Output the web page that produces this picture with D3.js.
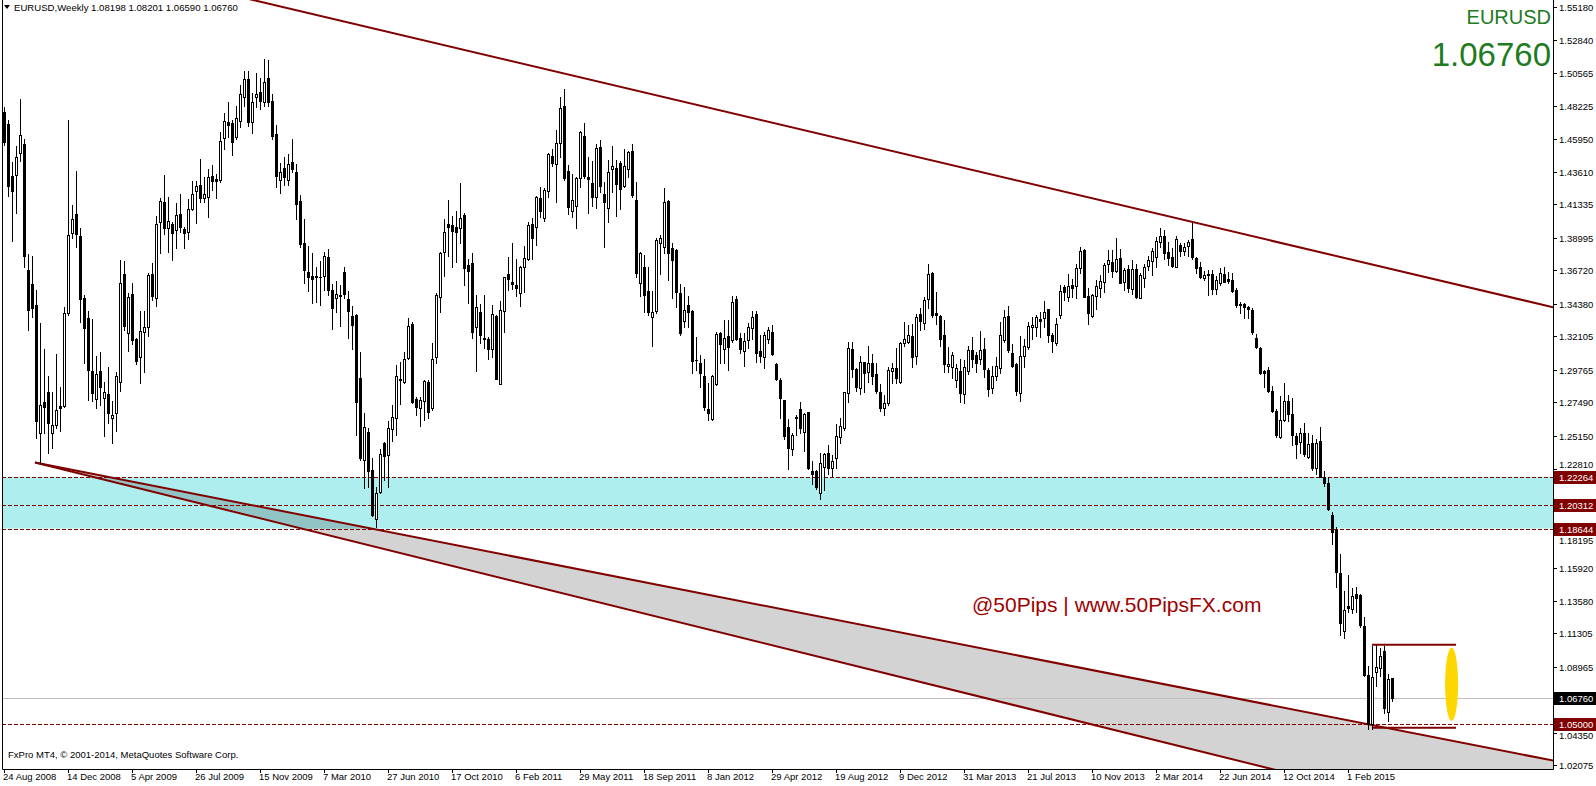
<!DOCTYPE html>
<html><head><meta charset="utf-8">
<script src="https://cdn.jsdelivr.net/npm/d3@7"></script>
<style>
html,body{margin:0;padding:0;background:#fff;overflow:hidden}
svg{display:block}
text{font-family:"Liberation Sans",Arial,sans-serif}
</style></head><body>
<svg id="c" width="1596" height="786"></svg>
<script>
// ---------- DATA (EURUSD weekly) ----------
const firstWeek = "24 Aug 2008";
const open = [
1.4783,1.4697,1.4333,1.4342,1.4492,1.4557,1.3675,1.3577,1.3430,1.2532,
1.2751,1.2819,1.2532,1.2590,1.2723,1.2725,1.3372,1.3936,1.4065,1.3913,
1.3477,1.3339,1.2968,1.2770,1.2968,1.2781,1.2807,1.2637,1.2672,1.2893,
1.3647,1.3232,1.3507,1.3192,1.3064,1.3243,1.3274,1.3645,1.3477,1.4013,
1.4149,1.3971,1.3997,1.3955,1.4067,1.3962,1.3943,1.4100,1.4228,1.4268,
1.4177,1.4184,1.4333,1.4314,1.4305,1.4601,1.4711,1.4702,1.4608,1.4720,
1.4888,1.5010,1.4713,1.4884,1.4919,1.4853,1.5017,1.4858,1.4625,1.4307,
1.4387,1.4305,1.4429,1.4359,1.4158,1.3862,1.3659,1.3631,1.3635,1.3628,
1.3635,1.3764,1.3535,1.3477,1.3500,1.3659,1.3470,1.3353,1.3360,1.2917,
1.2345,1.2539,1.2275,1.1930,1.2123,1.2462,1.2380,1.2562,1.2637,1.2905,
1.2893,1.3057,1.3297,1.2772,1.2707,1.2760,1.2888,1.2707,1.3064,1.3484,
1.3803,1.3997,1.3990,1.3974,1.3967,1.4060,1.3710,1.3724,1.3278,1.3379,
1.3199,1.3190,1.3120,1.3353,1.2875,1.3386,1.3645,1.3591,1.3570,1.3512,
1.3698,1.3752,1.3997,1.3978,1.4177,1.4041,1.4230,1.4473,1.4415,1.4562,
1.4823,1.4368,1.4090,1.4125,1.4321,1.4613,1.4324,1.4282,1.4188,1.4534,
1.4207,1.4111,1.4384,1.4387,1.4422,1.4263,1.4380,1.4508,1.4165,1.3586,
1.3693,1.3530,1.3344,1.3390,1.3866,1.3838,1.4158,1.3827,1.3815,1.3512,
1.3320,1.3428,1.3388,1.3047,1.3026,1.2933,1.2700,1.2632,1.2879,1.3232,
1.3120,1.3213,1.3183,1.3470,1.3197,1.3110,1.3185,1.3271,1.3367,1.3108,
1.3068,1.3190,1.3239,1.3017,1.2905,1.2765,1.2574,1.2420,1.2648,1.2702,
1.2543,1.2683,1.2268,1.2268,1.2116,1.2298,1.2396,1.2287,1.2357,1.2508,
1.2571,1.2812,1.3120,1.2980,1.2847,1.3029,1.2959,1.3022,1.2947,1.2819,
1.2712,1.2745,1.2970,1.2987,1.2889,1.3166,1.3173,1.3213,1.3075,1.3367,
1.3306,1.3470,1.3656,1.3372,1.3353,1.3220,1.3005,1.2998,1.2905,1.2968,
1.2805,1.2970,1.3115,1.3080,1.3050,1.3122,1.2975,1.2847,1.2933,1.2991,
1.3185,1.3353,1.3092,1.3017,1.2812,1.3075,1.3138,1.3278,1.3278,1.3332,
1.3337,1.3400,1.3220,1.3162,1.3360,1.3554,1.3488,1.3570,1.3563,1.3687,
1.3815,1.3493,1.3353,1.3495,1.3547,1.3593,1.3715,1.3731,1.3668,1.3757,
1.3593,1.3680,1.3540,1.3680,1.3481,1.3617,1.3703,1.3738,1.3764,1.3873,
1.3913,1.3799,1.3764,1.3698,1.3850,1.3810,1.3841,1.3890,1.3757,1.3694,
1.3621,1.3638,1.3647,1.3540,1.3586,1.3647,1.3612,1.3605,1.3535,1.3437,
1.3437,1.3414,1.3395,1.3197,1.3131,1.2970,1.2975,1.2830,1.2685,1.2508,
1.2628,1.2760,1.2670,1.2513,1.2473,1.2532,1.2364,1.2462,1.2287,1.2478,
1.2224,1.2182,1.1958,1.1855,1.1552,1.1150,1.1323,1.1300,1.1407,1.1400,
1.1183,1.0840,1.0497,1.0863,1.0886,1.1008,1.0583,1.0820];
const high = [
1.4814,1.4725,1.4433,1.4543,1.4872,1.4590,1.3787,1.3773,1.3535,1.3302,
1.3120,1.2933,1.2819,1.3087,1.2854,1.3418,1.4725,1.4128,1.4368,1.3967,
1.3500,1.3388,1.3332,1.3073,1.3101,1.2889,1.2998,1.2758,1.2959,1.3745,
1.3738,1.3512,1.3586,1.3197,1.3388,1.3390,1.3656,1.3726,1.4053,1.4177,
1.4340,1.4188,1.4013,1.4142,1.4207,1.3978,1.4172,1.4300,1.4300,1.4452,
1.4328,1.4382,1.4410,1.4347,1.4641,1.4772,1.4851,1.4725,1.4823,1.4970,
1.5066,1.5066,1.4916,1.5054,1.5019,1.5152,1.5145,1.4907,1.4690,1.4424,
1.4464,1.4487,1.4590,1.4417,1.4200,1.4032,1.3841,1.3794,1.3696,1.3740,
1.3801,1.3820,1.3577,1.3598,1.3570,1.3696,1.3526,1.3421,1.3367,1.3099,
1.2672,1.2567,1.2357,1.2154,1.2422,1.2473,1.2618,1.2730,1.3010,1.3033,
1.3103,1.3341,1.3313,1.2788,1.2788,1.2905,1.2905,1.3162,1.3512,1.3799,
1.4030,1.4165,1.4053,1.4088,1.4286,1.4072,1.3750,1.3794,1.3500,1.3437,
1.3500,1.3208,1.3428,1.3360,1.3460,1.3628,1.3768,1.3862,1.3752,1.3703,
1.3843,1.4013,1.4037,1.4193,1.4254,1.4247,1.4496,1.4522,1.4655,1.4884,
1.4942,1.4410,1.4345,1.4328,1.4648,1.4702,1.4468,1.4440,1.4555,1.4583,
1.4293,1.4445,1.4543,1.4445,1.4438,1.4520,1.4510,1.4555,1.4293,1.3803,
1.3780,1.3698,1.3528,1.3897,1.3920,1.4247,1.4165,1.3866,1.3820,1.3577,
1.3554,1.3493,1.3395,1.3208,1.3080,1.3050,1.2886,1.2940,1.3243,1.3243,
1.3325,1.3325,1.3493,1.3493,1.3232,1.3232,1.3306,1.3388,1.3388,1.3220,
1.3243,1.3278,1.3290,1.3022,1.2917,1.2765,1.2630,1.2532,1.2660,1.2753,
1.2676,1.2683,1.2338,1.2275,1.2392,1.2396,1.2450,1.2380,1.2597,1.2637,
1.2823,1.3169,1.3173,1.2991,1.3073,1.3029,1.3143,1.3085,1.3022,1.2875,
1.2800,1.2998,1.3026,1.3127,1.3173,1.3309,1.3290,1.3297,1.3367,1.3411,
1.3488,1.3715,1.3663,1.3519,1.3360,1.3325,1.3138,1.3099,1.3015,1.3052,
1.3045,1.3145,1.3208,1.3103,1.3250,1.3201,1.2987,1.3005,1.3068,1.3309,
1.3395,1.3423,1.3157,1.3022,1.3213,1.3190,1.3309,1.3348,1.3360,1.3383,
1.3458,1.3404,1.3232,1.3336,1.3570,1.3570,1.3647,1.3612,1.3715,1.3838,
1.3820,1.3547,1.3507,1.3605,1.3640,1.3722,1.3815,1.3815,1.3901,1.3822,
1.3687,1.3710,1.3745,1.3717,1.3652,1.3717,1.3775,1.3827,1.3908,1.3971,
1.3955,1.3869,1.3827,1.3913,1.3862,1.3862,1.3885,1.4002,1.3768,1.3733,
1.3668,1.3675,1.3675,1.3633,1.3687,1.3698,1.3663,1.3656,1.3547,1.3453,
1.3442,1.3423,1.3407,1.3225,1.3138,1.2975,1.2998,1.2860,1.2700,1.2790,
1.2887,1.2800,1.2780,1.2532,1.2567,1.2602,1.2532,1.2520,1.2495,1.2578,
1.2270,1.2224,1.1983,1.1878,1.1684,1.1428,1.1540,1.1446,1.1458,1.1404,
1.1244,1.0905,1.1043,1.1050,1.1026,1.1043,1.0850,1.0820];
const low = [
1.4550,1.4193,1.3880,1.4076,1.4440,1.3698,1.3255,1.3348,1.2497,1.2322,
1.2532,1.2392,1.2427,1.2567,1.2550,1.2718,1.3360,1.3901,1.3838,1.3313,
1.3026,1.2765,1.2760,1.2707,1.2730,1.2513,1.2606,1.2462,1.2550,1.2830,
1.3255,1.3110,1.3155,1.3017,1.2886,1.2963,1.3215,1.3465,1.3425,1.3796,
1.3927,1.3801,1.3745,1.3827,1.3943,1.3831,1.3894,1.4095,1.4006,1.4153,
1.4151,1.4048,1.4235,1.4177,1.4290,1.4520,1.4604,1.4480,1.4590,1.4678,
1.4823,1.4683,1.4632,1.4818,1.4804,1.4825,1.4825,1.4590,1.4258,1.4216,
1.4270,1.4270,1.4363,1.4030,1.3838,1.3586,1.3530,1.3446,1.3453,1.3430,
1.3535,1.3500,1.3264,1.3383,1.3283,1.3477,1.3201,1.3120,1.2520,1.2345,
1.2147,1.2154,1.1953,1.1878,1.2112,1.2205,1.2154,1.2480,1.2520,1.2735,
1.2882,1.3050,1.2746,1.2660,1.2585,1.2625,1.2637,1.2695,1.3026,1.3383,
1.3633,1.3773,1.3698,1.3729,1.3866,1.3570,1.3446,1.3201,1.2968,1.3162,
1.3127,1.3052,1.3068,1.2910,1.2875,1.3243,1.3535,1.3542,1.3493,1.3423,
1.3523,1.3745,1.3752,1.3850,1.4048,1.4018,1.4188,1.4403,1.4153,1.4468,
1.4305,1.4067,1.4048,1.3971,1.4258,1.4317,1.4076,1.4123,1.4107,1.4223,
1.3838,1.4013,1.4223,1.4053,1.4102,1.4254,1.4328,1.4184,1.3628,1.3493,
1.3381,1.3360,1.3145,1.3376,1.3647,1.3796,1.3605,1.3477,1.3418,1.3220,
1.3278,1.3278,1.2952,1.2975,1.2858,1.2695,1.2625,1.2625,1.2870,1.3022,
1.3026,1.2975,1.3173,1.3185,1.3092,1.3005,1.3127,1.3190,1.3033,1.3033,
1.2991,1.3166,1.3080,1.2905,1.2641,1.2490,1.2284,1.2380,1.2520,1.2532,
1.2410,1.2280,1.2177,1.2142,1.2070,1.2135,1.2247,1.2233,1.2291,1.2466,
1.2555,1.2753,1.2928,1.2830,1.2805,1.2819,1.2893,1.2875,1.2812,1.2690,
1.2662,1.2730,1.2882,1.2882,1.2886,1.3143,1.3162,1.2998,1.3017,1.3255,
1.3262,1.3407,1.3348,1.3295,1.3145,1.2961,1.2959,1.2917,1.2854,1.2750,
1.2745,1.2950,1.2998,1.2959,1.3020,1.2928,1.2795,1.2816,1.2905,1.2956,
1.3173,1.3099,1.2998,1.2802,1.2755,1.2998,1.3120,1.3190,1.3213,1.3208,
1.3278,1.3173,1.3103,1.3150,1.3340,1.3465,1.3460,1.3488,1.3477,1.3652,
1.3484,1.3295,1.3344,1.3400,1.3488,1.3523,1.3663,1.3628,1.3659,1.3582,
1.3535,1.3523,1.3505,1.3481,1.3477,1.3554,1.3675,1.3640,1.3698,1.3838,
1.3750,1.3710,1.3698,1.3698,1.3773,1.3780,1.3773,1.3750,1.3652,1.3617,
1.3605,1.3500,1.3507,1.3507,1.3570,1.3589,1.3582,1.3523,1.3418,1.3372,
1.3337,1.3337,1.3225,1.3127,1.2945,1.2858,1.2823,1.2680,1.2503,1.2500,
1.2615,1.2615,1.2450,1.2357,1.2396,1.2375,1.2358,1.2275,1.2245,1.2223,
1.2165,1.1995,1.1755,1.1458,1.1120,1.1097,1.1283,1.1272,1.1279,1.1178,
1.0835,1.0465,1.0462,1.0763,1.0833,1.0571,1.0520,1.0659];
const close = [
1.4573,1.4263,1.4230,1.4464,1.4618,1.3775,1.3395,1.3409,1.2620,1.2730,
1.2718,1.2606,1.2590,1.2695,1.2711,1.3372,1.3920,1.4030,1.3925,1.3472,
1.3267,1.2975,1.2812,1.2945,1.2858,1.2823,1.2672,1.2660,1.2933,1.3582,
1.3283,1.3484,1.3185,1.3040,1.3250,1.3274,1.3640,1.3493,1.3998,1.4158,
1.3971,1.4018,1.3936,1.4060,1.3978,1.3936,1.4100,1.4207,1.4261,1.4181,
1.4207,1.4328,1.4300,1.4300,1.4576,1.4718,1.4688,1.4573,1.4737,1.4905,
1.5010,1.4713,1.4849,1.4905,1.4860,1.4989,1.4853,1.4615,1.4335,1.4359,
1.4328,1.4415,1.4384,1.4139,1.3859,1.3675,1.3628,1.3614,1.3626,1.3624,
1.3773,1.3535,1.3411,1.3505,1.3495,1.3505,1.3386,1.3290,1.2753,1.2357,
1.2574,1.2270,1.1960,1.2112,1.2385,1.2373,1.2567,1.2644,1.2933,1.2910,
1.3050,1.3283,1.2753,1.2714,1.2765,1.2898,1.2683,1.3050,1.3500,1.3792,
1.3939,1.3978,1.3950,1.3943,1.4037,1.3691,1.3670,1.3243,1.3414,1.3220,
1.3194,1.3120,1.3365,1.2910,1.3395,1.3624,1.3610,1.3577,1.3551,1.3694,
1.3757,1.3990,1.3901,1.4184,1.4090,1.4235,1.4487,1.4426,1.4562,1.4807,
1.4317,1.4118,1.4165,1.4317,1.4639,1.4335,1.4310,1.4188,1.4527,1.4265,
1.4153,1.4359,1.4403,1.4277,1.4242,1.4403,1.4503,1.4200,1.3656,1.3796,
1.3502,1.3381,1.3379,1.3885,1.3897,1.4153,1.3792,1.3745,1.3523,1.3236,
1.3395,1.3383,1.3040,1.3043,1.2956,1.2718,1.2676,1.2933,1.3227,1.3155,
1.3197,1.3138,1.3451,1.3190,1.3124,1.3178,1.3274,1.3344,1.3096,1.3073,
1.3220,1.3255,1.3085,1.2912,1.2781,1.2515,1.2431,1.2520,1.2637,1.2571,
1.2665,1.2287,1.2247,1.2158,1.2322,1.2385,1.2287,1.2338,1.2513,1.2583,
1.2819,1.3126,1.2980,1.2858,1.3033,1.2952,1.3026,1.2935,1.2828,1.2710,
1.2742,1.2975,1.2987,1.2921,1.3162,1.3190,1.3220,1.3068,1.3348,1.3320,
1.3465,1.3647,1.3360,1.3360,1.3194,1.3017,1.3015,1.3080,1.2987,1.2816,
1.2994,1.3115,1.3050,1.3022,1.3115,1.2982,1.2840,1.2933,1.3003,1.3220,
1.3344,1.3115,1.3005,1.2828,1.3073,1.3143,1.3283,1.3290,1.3344,1.3320,
1.3383,1.3220,1.3178,1.3297,1.3530,1.3523,1.3563,1.3547,1.3687,1.3810,
1.3488,1.3372,1.3500,1.3563,1.3598,1.3708,1.3745,1.3670,1.3750,1.3586,
1.3675,1.3547,1.3682,1.3488,1.3640,1.3694,1.3745,1.3808,1.3878,1.3913,
1.3792,1.3757,1.3703,1.3890,1.3810,1.3836,1.3869,1.3764,1.3691,1.3628,
1.3640,1.3647,1.3542,1.3605,1.3652,1.3593,1.3596,1.3530,1.3430,1.3428,
1.3414,1.3400,1.3243,1.3134,1.2952,1.2956,1.2830,1.2685,1.2520,1.2628,
1.2760,1.2670,1.2520,1.2455,1.2532,1.2385,1.2457,1.2287,1.2462,1.2228,
1.2182,1.2000,1.1843,1.1563,1.1206,1.1295,1.1311,1.1393,1.1381,1.1190,
1.0840,1.0497,1.0824,1.0893,1.0973,1.0606,1.0810,1.0676];

const dateLabels = ["24 Aug 2008","14 Dec 2008","5 Apr 2009","26 Jul 2009","15 Nov 2009","7 Mar 2010",
  "27 Jun 2010","17 Oct 2010","6 Feb 2011","29 May 2011","18 Sep 2011","8 Jan 2012","29 Apr 2012",
  "19 Aug 2012","9 Dec 2012","31 Mar 2013","21 Jul 2013","10 Nov 2013","2 Mar 2014","22 Jun 2014",
  "12 Oct 2014","1 Feb 2015"];
const priceTicks = [1.55180,1.52840,1.50565,1.48225,1.45950,1.43610,1.41335,1.38995,1.36720,1.34380,
  1.32105,1.29765,1.27490,1.25150,1.22810,1.20535,1.18195,1.15920,1.13580,1.11305,1.08965,1.06690,
  1.04350,1.02075];
const zoneLevels = [1.22264, 1.20312, 1.18644];
const supportLevel = 1.05000;
const bidPrice = 1.06760;
const headerValues = ["1.08198","1.08201","1.06590","1.06760"];
const symbol = "EURUSD";
// drawn objects: [barIndex, price] anchors
const upperLine = [[68, 1.5527], [387.25, 1.3414]];
const lineA = [[7.75, 1.2327], [341, 1.0495]];
const lineB = [[7.75, 1.2327], [316, 1.0188]];
const rangeLevels = [1.1052, 1.0470];
const rangeBars = [342, 363];
const ellipseObj = {bar: 361.9, top: 1.1032, bottom: 1.0518};

// ---------- CHART ----------
const W = 1596, H = 786, L = 2, R = 1553, T = 0, B = 769;
const x = d3.scaleLinear().domain([-0.5, 387.25]).range([L, R]);
const y = d3.scaleLinear().domain([1.02075, 1.55180]).range([765.3, 6.7]);
const svg = d3.select("#c");
svg.append("rect").attr("width", W).attr("height", H).attr("fill", "#fff");
const defs = svg.append("defs");
defs.append("clipPath").attr("id", "plot")
  .append("rect").attr("x", L).attr("y", T).attr("width", R - L).attr("height", B - T);
const g = svg.append("g").attr("clip-path", "url(#plot)");
const maroon = "#800000";

// support / resistance zone
g.append("rect").attr("x", L).attr("width", R - L)
  .attr("y", y(zoneLevels[0])).attr("height", y(zoneLevels[2]) - y(zoneLevels[0]))
  .attr("fill", "#afeeee");

function ext(line, bar) {
  const [a, b] = line;
  return a[1] + (b[1] - a[1]) * (bar - a[0]) / (b[0] - a[0]);
}
const far = 430;
// grey channel fill
g.append("path")
  .attr("d", d3.line()([[x(lineA[0][0]), y(lineA[0][1])], [x(far), y(ext(lineA, far))], [x(far), y(ext(lineB, far))]]) + "Z")
  .attr("fill", "#d3d3d3").style("mix-blend-mode", "multiply");

// horizontal levels
zoneLevels.concat([supportLevel]).forEach(p => {
  g.append("line").attr("x1", L).attr("x2", R).attr("y1", Math.round(y(p)) + 0.5).attr("y2", Math.round(y(p)) + 0.5)
    .attr("stroke", maroon).attr("stroke-width", 1).attr("stroke-dasharray", "4,2");
});
g.append("line").attr("x1", L).attr("x2", R).attr("y1", Math.round(y(bidPrice)) + 0.5).attr("y2", Math.round(y(bidPrice)) + 0.5)
  .attr("stroke", "#c0c0c0").attr("stroke-width", 1);

// trend lines
[[upperLine, -10, far], [lineA, lineA[0][0], far], [lineB, lineB[0][0], far]].forEach(([ln, b0, b1]) => {
  g.append("line").attr("x1", x(b0)).attr("y1", y(ext(ln, b0))).attr("x2", x(b1)).attr("y2", y(ext(ln, b1)))
    .attr("stroke", maroon).attr("stroke-width", 2);
});
// range box lines
rangeLevels.forEach(p => {
  g.append("line").attr("x1", x(rangeBars[0])).attr("x2", x(rangeBars[1])).attr("y1", y(p)).attr("y2", y(p))
    .attr("stroke", maroon).attr("stroke-width", 2);
});
// ellipse
g.append("ellipse").attr("cx", x(ellipseObj.bar)).attr("cy", (y(ellipseObj.top) + y(ellipseObj.bottom)) / 2)
  .attr("rx", 6.5).attr("ry", (y(ellipseObj.bottom) - y(ellipseObj.top)) / 2).attr("fill", "#ffd700");

// candles
const candles = g.append("g");
close.forEach((c, i) => {
  const o = open[i], h = high[i], l = low[i];
  const cx = Math.round(x(i));
  candles.append("line").attr("x1", cx + 0.5).attr("x2", cx + 0.5)
    .attr("y1", Math.round(y(h))).attr("y2", Math.round(y(l)) + 1).attr("stroke", "#000").attr("stroke-width", 1);
  const yt = Math.round(y(Math.max(o, c))), yb = Math.round(y(Math.min(o, c)));
  if (c < o || yb - yt < 2) {
    candles.append("rect").attr("x", cx - 1).attr("width", 3).attr("y", yt).attr("height", Math.max(1, yb - yt + 1)).attr("fill", "#000");
  } else {
    candles.append("rect").attr("x", cx - 0.5).attr("width", 2).attr("y", yt + 0.5).attr("height", yb - yt)
      .attr("fill", "#fff").attr("stroke", "#000").attr("stroke-width", 1);
  }
});

// frame
svg.append("path").attr("d", `M${L + 0.5},0V${B + 0.5}H${R + 0.5}V0`).attr("fill", "none").attr("stroke", "#000").attr("stroke-width", 1);

// right axis (price scale)
const ax = svg.append("g");
const tagLevels = zoneLevels.concat([supportLevel, bidPrice]);
const tagH = 13;
priceTicks.forEach(p => {
  const yy = Math.round(y(p)) + 0.5;
  ax.append("line").attr("x1", R).attr("x2", R + 4).attr("y1", yy).attr("y2", yy).attr("stroke", "#000");
  const near = tagLevels.find(t => Math.abs(y(t) - y(p)) < 12);
  if (near !== undefined && Math.abs(y(near) - y(p)) < 4) return; // label fully hidden by a level tag
  let ty = yy + 3.5;
  if (near !== undefined) {
    // label partly under a level tag: keep it readable just beside the tag
    ty = y(p) > y(near) ? Math.round(y(near)) + 15 : Math.round(y(near)) - 9;
  }
  ax.append("text").attr("x", 1559).attr("y", ty).attr("font-size", "9.5px").attr("fill", "#000").text(p.toFixed(5));
});
function tag(p, bg) {
  const yy = Math.round(y(p));
  ax.append("rect").attr("x", R + 1).attr("y", yy - 6).attr("width", 43).attr("height", tagH).attr("fill", bg);
  ax.append("text").attr("x", 1559).attr("y", yy + 4).attr("font-size", "9.5px").attr("fill", "#fff").text(p.toFixed(5));
}
zoneLevels.forEach(p => tag(p, maroon));
tag(supportLevel, maroon);
tag(bidPrice, "#000");

// bottom axis (time scale)
const parse = d3.utcParse("%d %b %Y");
const start = parse(firstWeek);
dateLabels.forEach(s => {
  const bar = d3.utcWeek.count(start, parse(s));
  const xx = Math.round(x(bar));
  svg.append("line").attr("x1", xx + 0.5).attr("x2", xx + 0.5).attr("y1", B).attr("y2", B + 4).attr("stroke", "#000");
  svg.append("text").attr("x", xx - 1).attr("y", 780).attr("font-size", "9.5px").attr("fill", "#000").text(s);
});

// header & texts
svg.append("path").attr("d", "M4,5H10L7,9Z").attr("fill", "#000");
svg.append("text").attr("x", 14).attr("y", 11).attr("font-size", "9.6px").attr("fill", "#000")
  .text(symbol + ",Weekly  " + headerValues.join(" "));
svg.append("text").attr("x", 8).attr("y", 758).attr("font-size", "9.5px").attr("fill", "#000")
  .text("FxPro MT4, © 2001-2014, MetaQuotes Software Corp.");
svg.append("text").attr("x", 1551).attr("y", 24).attr("text-anchor", "end").attr("font-size", "20px")
  .attr("fill", "#1e7b1e").text(symbol);
svg.append("text").attr("x", 1551).attr("y", 66).attr("text-anchor", "end").attr("font-size", "33px")
  .attr("fill", "#1e7b1e").text(bidPrice.toFixed(5));
svg.append("text").attr("x", 972).attr("y", 612).attr("font-size", "21px")
  .attr("fill", "#a00000").text("@50Pips | www.50PipsFX.com");
</script></body></html>
